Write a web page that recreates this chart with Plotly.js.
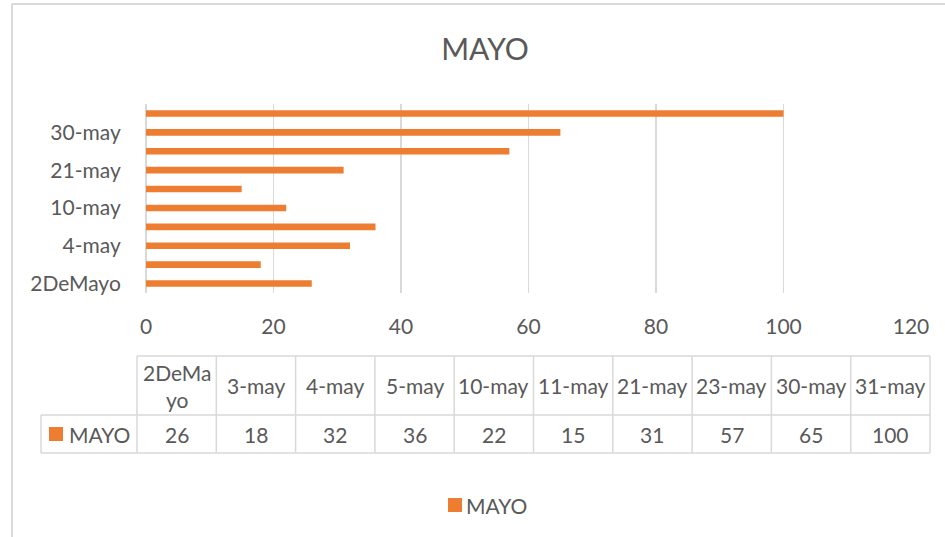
<!DOCTYPE html>
<html>
<head>
<meta charset="utf-8">
<script src="https://cdn.plot.ly/plotly-3.0.1.min.js"></script>
<style>
html,body{margin:0;padding:0;background:#fff;overflow:hidden;}
#chart{width:945px;height:537px;}
</style>
</head>
<body>
<div id="chart"></div>
<script>
// ---- data ----
const categories = ['2DeMayo','3-may','4-may','5-may','10-may','11-may','21-may','23-may','30-may','31-may'];
const mayoValues = [26, 18, 32, 36, 22, 15, 31, 57, 65, 100];
const seriesName = 'MAYO';
const yTickLabels = ['2DeMayo','4-may','10-may','21-may','30-may'];
const xTickValues = [0, 20, 40, 60, 80, 100, 120];

// ---- geometry helpers (pixel -> paper) ----
const W = 945, H = 537;
const L = 146, R = 911, T = 104, B = 293;
const pw = R - L, ph = B - T;
const px = v => (v - L) / pw;
const py = v => (B - v) / ph;

const orange = '#ED7D31';
const grey = '#d9d9d9';
const txt = '#595959';
const FONT = 'Lato, "Open Sans", sans-serif';
const FS = 21;

const shapes = [];
const annotations = [];

// outer chart border (partially visible)
shapes.push({type:'line', xref:'paper', yref:'paper', x0:px(12), x1:px(12), y0:py(4), y1:py(H+5), line:{color:grey, width:2}});
shapes.push({type:'line', xref:'paper', yref:'paper', x0:px(12), x1:px(W+5), y0:py(4), y1:py(4), line:{color:grey, width:2}});

// data table
const colLeft = 137, colW = 79.3, labelLeft = 41;
const hdrTop = 356, rowMid = 415, rowBot = 453;
const lineStyle = {color:grey, width:1.5};
const colRight = colLeft + colW * categories.length;
shapes.push({type:'line', xref:'paper', yref:'paper', x0:px(colLeft), x1:px(colRight), y0:py(hdrTop), y1:py(hdrTop), line:lineStyle});
shapes.push({type:'line', xref:'paper', yref:'paper', x0:px(labelLeft), x1:px(colRight), y0:py(rowMid), y1:py(rowMid), line:lineStyle});
shapes.push({type:'line', xref:'paper', yref:'paper', x0:px(labelLeft), x1:px(colRight), y0:py(rowBot), y1:py(rowBot), line:lineStyle});
shapes.push({type:'line', xref:'paper', yref:'paper', x0:px(labelLeft), x1:px(labelLeft), y0:py(rowMid), y1:py(rowBot), line:lineStyle});
for (let i = 0; i <= categories.length; i++) {
  const x = colLeft + colW * i;
  shapes.push({type:'line', xref:'paper', yref:'paper', x0:px(x), x1:px(x), y0:py(hdrTop), y1:py(rowBot), line:lineStyle});
}
const wrap = s => s.length > 6 ? s.slice(0,5) + '<br>' + s.slice(5) : s;
categories.forEach((c, i) => {
  const cx = colLeft + colW * (i + 0.5);
  annotations.push({xref:'paper', yref:'paper', x:px(cx), y:py((hdrTop+rowMid)/2), text:wrap(c), showarrow:false,
    xanchor:'center', yanchor:'middle', font:{family:FONT, size:FS, color:txt}});
  annotations.push({xref:'paper', yref:'paper', x:px(cx), y:py((rowMid+rowBot)/2 + 1), text:String(mayoValues[i]), showarrow:false,
    xanchor:'center', yanchor:'middle', font:{family:FONT, size:FS, color:txt}});
});
// series label with key in table
shapes.push({type:'rect', xref:'paper', yref:'paper', x0:px(49), x1:px(63), y0:py(427), y1:py(441), fillcolor:orange, line:{width:0}});
annotations.push({xref:'paper', yref:'paper', x:px(67), y:py((rowMid+rowBot)/2 + 1), text:seriesName, showarrow:false,
  xanchor:'left', yanchor:'middle', font:{family:FONT, size:FS, color:txt}});

// bottom legend
shapes.push({type:'rect', xref:'paper', yref:'paper', x0:px(448), x1:px(462), y0:py(498), y1:py(512), fillcolor:orange, line:{width:0}});
annotations.push({xref:'paper', yref:'paper', x:px(464), y:py(505), text:seriesName, showarrow:false,
  xanchor:'left', yanchor:'middle', font:{family:FONT, size:FS, color:txt}});

const trace = {
  type:'bar', orientation:'h', name:seriesName,
  y: categories, x: mayoValues,
  marker:{color:orange}, showlegend:false
};

const layout = {
  width:W, height:H,
  margin:{l:L, r:W-R, t:T, b:H-B, pad:0},
  paper_bgcolor:'#fff', plot_bgcolor:'#fff',
  font:{family:FONT, color:txt},
  title:{text:'MAYO', font:{family:FONT, size:30, color:txt}, xref:'container', yref:'container',
    x:485/W, y:1-49/H, xanchor:'center', yanchor:'middle'},
  bargap:0.65,
  xaxis:{range:[0,120], tickvals:xTickValues, showgrid:true, gridcolor:grey, gridwidth:1.5,
    zeroline:true, zerolinecolor:grey, zerolinewidth:1.5, showline:false, ticks:'outside', ticklen:15, tickcolor:'rgba(0,0,0,0)',
    tickfont:{family:FONT, size:FS, color:txt}, fixedrange:true},
  yaxis:{type:'category', categoryorder:'array', categoryarray:categories, tickvals:yTickLabels,
    showgrid:false, zeroline:false, showline:false, ticks:'outside', ticklen:20, tickcolor:'rgba(0,0,0,0)',
    tickfont:{family:FONT, size:FS, color:txt}, fixedrange:true},
  showlegend:false,
  shapes:shapes,
  annotations:annotations
};

Plotly.newPlot('chart', [trace], layout, {displayModeBar:false, staticPlot:true});
</script>
</body>
</html>
